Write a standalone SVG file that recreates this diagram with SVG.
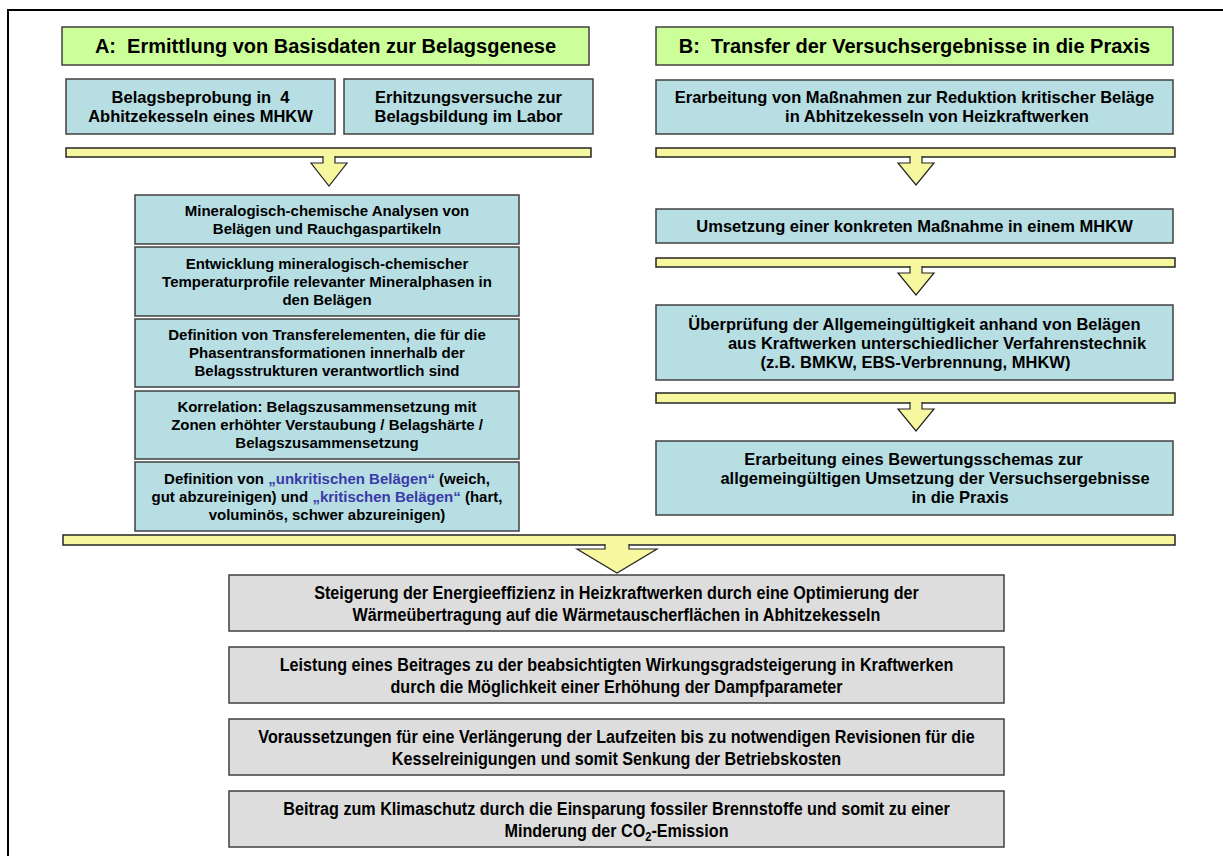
<svg xmlns="http://www.w3.org/2000/svg" width="1223" height="856" viewBox="0 0 1223 856">
<style>
.hdr{fill:#ccff99;stroke:#404040;stroke-width:1.5}
.blue{fill:#b7dee3;stroke:#404040;stroke-width:1.5}
.gray{fill:#dddddd;stroke:#404040;stroke-width:1.5}
.bar{fill:#f7f79f;stroke:#262626;stroke-width:1.5}
.arr{fill:#f7f79f;stroke:#262626;stroke-width:1.2;stroke-linejoin:miter}
text{font-family:"Liberation Sans",Arial,sans-serif;font-weight:bold;fill:#000;text-anchor:middle}
.th{font-size:20px}
.tb{font-size:16.5px}
.tl{font-size:15px}
.tg{font-size:19px}
.q{fill:#3a3aaa}
</style>
<rect x="0" y="0" width="1223" height="856" fill="#fff"/>
<rect x="8" y="10" width="1240" height="870" fill="none" stroke="#000" stroke-width="2"/>

<g id="connectors">
  <rect class="bar" x="66" y="148" width="525" height="9"/>
  <path class="arr" d="M323,156 V163 H311 L329,186 L347,163 H335 V156"/>
  <rect class="bar" x="656" y="148" width="519" height="9"/>
  <path class="arr" d="M910,156 V163 H898 L916,185 L934,163 H922 V156"/>
  <rect class="bar" x="656" y="258" width="519" height="9"/>
  <path class="arr" d="M910,266 V273 H898 L916,295 L934,273 H922 V266"/>
  <rect class="bar" x="656" y="393" width="519" height="10"/>
  <path class="arr" d="M910,402 V409 H898 L916,431 L934,409 H922 V402"/>
  <rect class="bar" x="63" y="535" width="1112" height="10"/>
  <path class="arr" d="M605,544 V549 H577 L617,573 L657,549 H629 V544"/>
</g>

<g id="headerA">
  <rect class="hdr" x="62" y="27" width="527" height="38"/>
  <text class="th" x="325.5" y="53" xml:space="preserve">A:  Ermittlung von Basisdaten zur Belagsgenese</text>
</g>
<g id="headerB">
  <rect class="hdr" x="656" y="27" width="517" height="38"/>
  <text class="th" x="914.5" y="53" xml:space="preserve">B:  Transfer der Versuchsergebnisse in die Praxis</text>
</g>

<g id="belagsbeprobung">
  <rect class="blue" x="66" y="79" width="269" height="55"/>
  <text class="tb" x="200.5" y="103" xml:space="preserve">Belagsbeprobung in  4</text>
  <text class="tb" x="200.5" y="122">Abhitzekesseln eines MHKW</text>
</g>
<g id="erhitzungsversuche">
  <rect class="blue" x="344" y="79" width="249" height="55"/>
  <text class="tb" x="468.5" y="103">Erhitzungsversuche zur</text>
  <text class="tb" x="468.5" y="122">Belagsbildung im Labor</text>
</g>

<g id="analysen">
  <rect class="blue" x="135" y="195" width="384" height="49"/>
  <text class="tl" x="327" y="215.8">Mineralogisch-chemische Analysen von</text>
  <text class="tl" x="327" y="233.8">Belägen und Rauchgaspartikeln</text>
</g>
<g id="entwicklung">
  <rect class="blue" x="135" y="247" width="384" height="69"/>
  <text class="tl" x="327" y="268.8">Entwicklung mineralogisch-chemischer</text>
  <text class="tl" x="327" y="286.8">Temperaturprofile relevanter Mineralphasen in</text>
  <text class="tl" x="327" y="304.8">den Belägen</text>
</g>
<g id="transferelemente">
  <rect class="blue" x="135" y="319" width="384" height="68"/>
  <text class="tl" x="327" y="340.3">Definition von Transferelementen, die für die</text>
  <text class="tl" x="327" y="358.3">Phasentransformationen innerhalb der</text>
  <text class="tl" x="327" y="376.3">Belagsstrukturen verantwortlich sind</text>
</g>
<g id="korrelation">
  <rect class="blue" x="135" y="391" width="384" height="68"/>
  <text class="tl" x="327" y="412.3">Korrelation: Belagszusammensetzung mit</text>
  <text class="tl" x="327" y="430.3">Zonen erhöhter Verstaubung / Belagshärte /</text>
  <text class="tl" x="327" y="448.3">Belagszusammensetzung</text>
</g>
<g id="definition">
  <rect class="blue" x="135" y="462" width="384" height="69"/>
  <text class="tl" x="327" y="483.8">Definition von <tspan class="q">„unkritischen Belägen“</tspan> (weich,</text>
  <text class="tl" x="327" y="501.8">gut abzureinigen) und <tspan class="q">„kritischen Belägen“</tspan> (hart,</text>
  <text class="tl" x="327" y="519.8">voluminös, schwer abzureinigen)</text>
</g>

<g id="massnahmen">
  <rect class="blue" x="656" y="80" width="517" height="54"/>
  <text class="tb" x="914.5" y="103">Erarbeitung von Maßnahmen zur Reduktion kritischer Beläge</text>
  <text class="tb" x="937" y="122">in Abhitzekesseln von Heizkraftwerken</text>
</g>
<g id="umsetzung">
  <rect class="blue" x="656" y="209" width="517" height="34"/>
  <text class="tb" x="914.5" y="232">Umsetzung einer konkreten Maßnahme in einem MHKW</text>
</g>
<g id="ueberpruefung">
  <rect class="blue" x="656" y="305" width="517" height="75"/>
  <text class="tb" x="914.5" y="329.5">Überprüfung der Allgemeingültigkeit anhand von Belägen</text>
  <text class="tb" x="937" y="348.5">aus Kraftwerken unterschiedlicher Verfahrenstechnik</text>
  <text class="tb" x="915.5" y="367.5">(z.B. BMKW, EBS-Verbrennung, MHKW)</text>
</g>
<g id="bewertungsschema">
  <rect class="blue" x="656" y="441" width="517" height="74"/>
  <text class="tb" x="913.5" y="465">Erarbeitung eines Bewertungsschemas zur</text>
  <text class="tb" x="935" y="484">allgemeingültigen Umsetzung der Versuchsergebnisse</text>
  <text class="tb" x="960" y="503">in die Praxis</text>
</g>

<g id="energieeffizienz">
  <rect class="gray" x="229" y="575" width="775" height="56"/>
  <g transform="translate(616.5,0) scale(0.85,1)">
    <text class="tg" x="0" y="598.8">Steigerung der Energieeffizienz in Heizkraftwerken durch eine Optimierung der</text>
    <text class="tg" x="0" y="620.8">Wärmeübertragung auf die Wärmetauscherflächen in Abhitzekesseln</text>
  </g>
</g>
<g id="wirkungsgrad">
  <rect class="gray" x="229" y="647" width="775" height="56"/>
  <g transform="translate(616.5,0) scale(0.85,1)">
    <text class="tg" x="0" y="670.8">Leistung eines Beitrages zu der beabsichtigten Wirkungsgradsteigerung in Kraftwerken</text>
    <text class="tg" x="0" y="692.8">durch die Möglichkeit einer Erhöhung der Dampfparameter</text>
  </g>
</g>
<g id="laufzeiten">
  <rect class="gray" x="229" y="719" width="775" height="56"/>
  <g transform="translate(616.5,0) scale(0.85,1)">
    <text class="tg" x="0" y="742.8">Voraussetzungen für eine Verlängerung der Laufzeiten bis zu notwendigen Revisionen für die</text>
    <text class="tg" x="0" y="764.8">Kesselreinigungen und somit Senkung der Betriebskosten</text>
  </g>
</g>
<g id="klimaschutz">
  <rect class="gray" x="229" y="791" width="775" height="56"/>
  <g transform="translate(616.5,0) scale(0.85,1)">
    <text class="tg" x="0" y="814.8">Beitrag zum Klimaschutz durch die Einsparung fossiler Brennstoffe und somit zu einer</text>
    <text class="tg" x="0" y="836.8">Minderung der CO<tspan font-size="13" dy="4">2</tspan><tspan dy="-4">-Emission</tspan></text>
  </g>
</g>
</svg>
